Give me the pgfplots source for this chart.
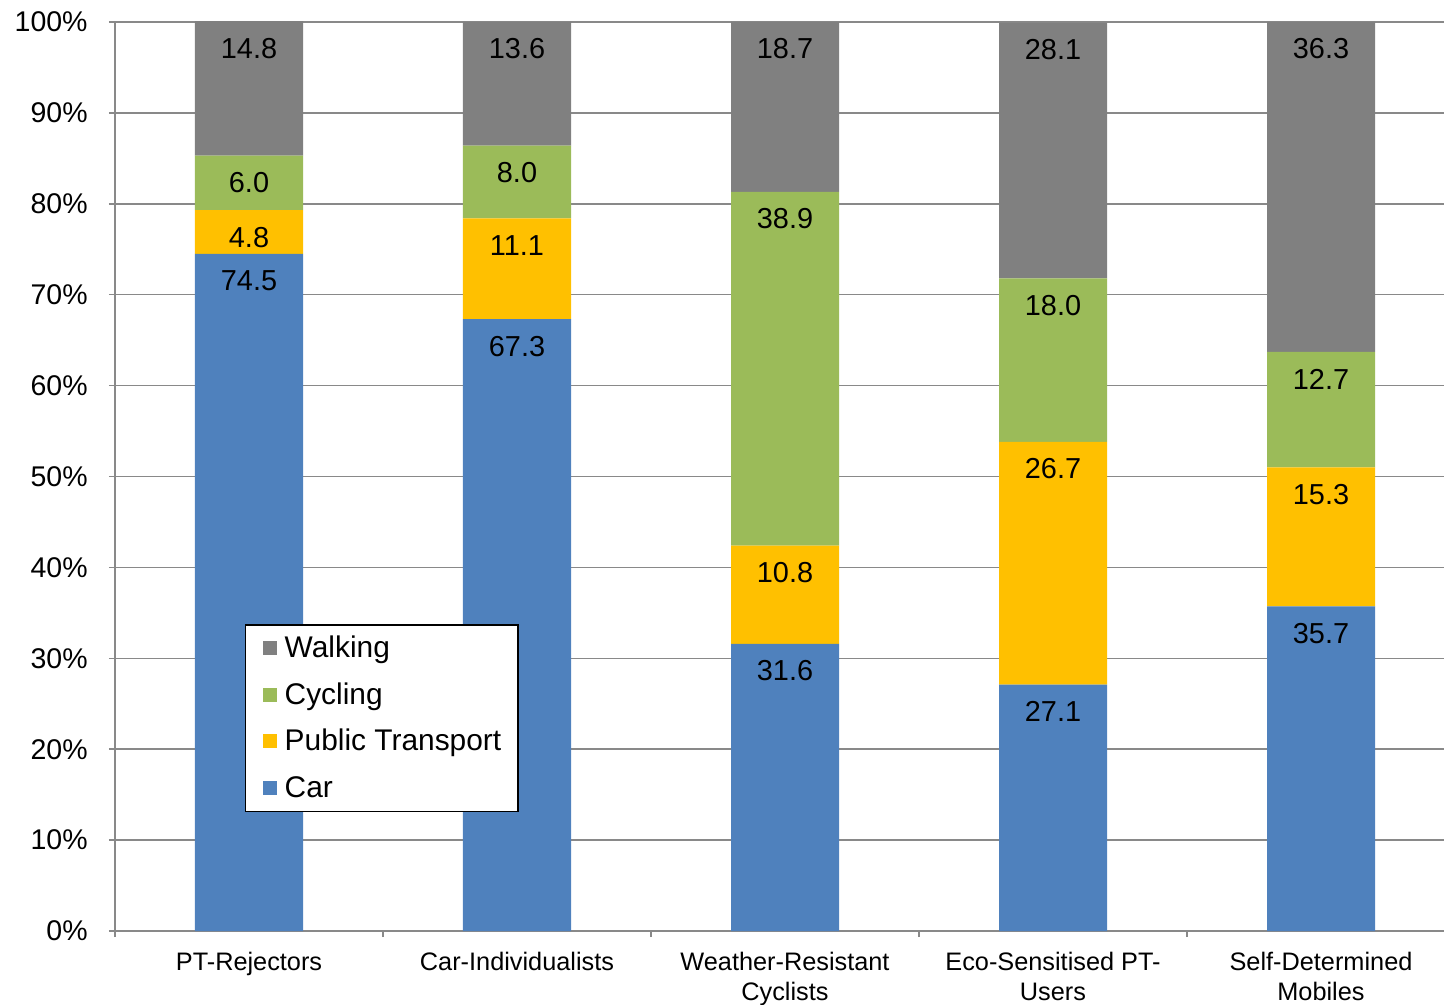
\documentclass[border=0pt]{standalone}
\usepackage{fontspec}
\setmainfont{Liberation Sans}
\usepackage{pgfplots}
\usepackage{pgfplotstable}
\pgfplotsset{compat=1.18}

\definecolor{carblue}{HTML}{4F81BD}
\definecolor{ptyellow}{HTML}{FFC000}
\definecolor{cyclegreen}{HTML}{9BBB59}
\definecolor{walkgray}{HTML}{808080}
\definecolor{gridgray}{HTML}{898989}

% modal split (%) per mobility type
\pgfplotstableread{
x car pt cycling walking
0 74.5 4.8 6.0 14.8
1 67.3 11.1 8.0 13.6
2 31.6 10.8 38.9 18.7
3 27.1 26.7 18.0 28.1
4 35.7 15.3 12.7 36.3
}\modes

\begin{document}
\begin{tikzpicture}
\begin{axis}[
  name=ax,
  scale only axis, width=664.5bp, height=454.5bp,
  ybar stacked, bar width=0.403,
  xmin=-0.5, xmax=4.459, ymin=0, ymax=100,
  clip=false,
  axis lines*=left,
  axis line style={-, gridgray, line width=0.75bp},
  ymajorgrids, grid style={gridgray, line width=0.75bp},
  /pgf/number format/assume math mode=true,
  ytick={0,10,...,100},
  yticklabel={\pgfmathprintnumber{\tick}\%},
  yticklabel style={font=\fontsize{14.3}{17}\selectfont, inner sep=0pt, anchor=east, xshift=-10.5bp},
  xtick={0,1,2,3,4},
  xticklabels={PT-Rejectors, Car-Individualists, {Weather-Resistant\\Cyclists}, {Eco-Sensitised PT-\\Users}, {Self-Determined\\Mobiles}},
  xticklabel style={font=\fontsize{12.7}{15}\selectfont, align=center, inner sep=0pt, anchor=north, yshift=-7.5bp},
  minor xtick={-0.5,0.5,1.5,2.5,3.5},
  major x tick style={draw=none},
  minor x tick style={gridgray, line width=0.75bp},
  tick style={gridgray, line width=0.75bp},
  tick align=outside, major tick length=3bp, minor tick length=3bp,
  tick pos=left,
  % value labels sit just inside the top end of each segment: the node
  % is at the segment centre, so lift it by half the segment
  % (4.545bp per percent) and drop it by a fixed offset
  visualization depends on=rawy \as \segval,
  nodes near coords={\pgfmathprintnumber[fixed, fixed zerofill, precision=1]{\segval}},
  every node near coord/.append style={font=\fontsize{14.5}{17}\selectfont, text=black,
    anchor=center, inner sep=0pt, yshift=\segval*2.2725bp-13.5bp},
  reverse legend,
  legend style={at={(0.0978,0.3377)}, anchor=north west, draw=black, line width=0.75bp, fill=white,
    inner xsep=8.5bp, inner ysep=5bp, row sep=9.8bp, font=\fontsize{15}{18}\selectfont,
    nodes={inner sep=0pt, text height=11.5bp, text depth=2bp}, cells={anchor=west}},
  legend image code/.code={\fill[#1] (0bp,-3.5bp) rectangle (7bp,3.5bp); \path (11bp,0bp);},
]
\addplot[fill=carblue, draw=none] table[x=x, y=car] {\modes};
\addplot[fill=ptyellow, draw=none] table[x=x, y=pt] {\modes};
\addplot[fill=cyclegreen, draw=none] table[x=x, y=cycling] {\modes};
\addplot[fill=walkgray, draw=none] table[x=x, y=walking] {\modes};
\legend{Car, Public Transport, Cycling, Walking}
\end{axis}
\pgfresetboundingbox
\path[use as bounding box] ([shift={(-57.5bp,-37bp)}]ax.south west) rectangle ([shift={(0bp,11bp)}]ax.north east);
\end{tikzpicture}
\end{document}
